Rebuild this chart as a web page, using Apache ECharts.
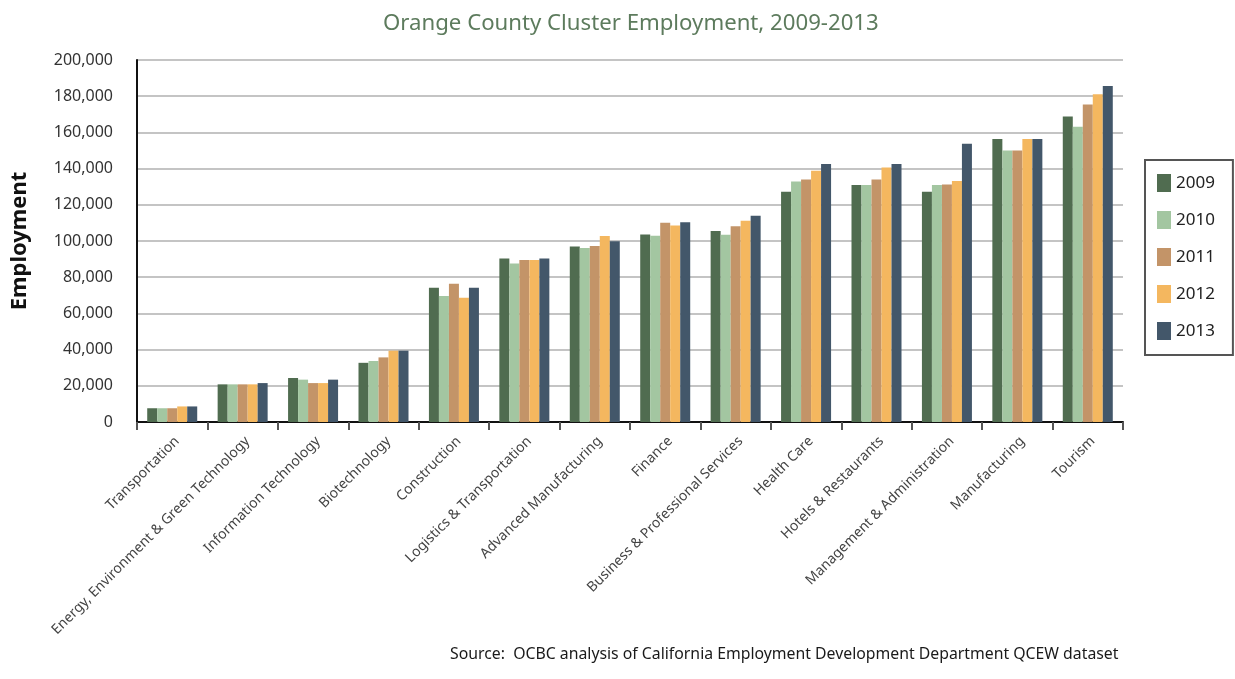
<!DOCTYPE html>
<html>
<head>
<meta charset="utf-8">
<title>Orange County Cluster Employment, 2009-2013</title>
<script src="https://cdn.jsdelivr.net/npm/echarts@6/dist/echarts.min.js"></script>
<style>
  html, body { margin: 0; padding: 0; background: #ffffff; }
  #chart { width: 1235px; height: 679px; }
</style>
</head>
<body>
<div id="chart"></div>
<script>
// Employment clusters, ordered by size
const categories = [
  'Transportation',
  'Energy, Environment & Green Technology',
  'Information Technology',
  'Biotechnology',
  'Construction',
  'Logistics & Transportation',
  'Advanced Manufacturing',
  'Finance',
  'Business & Professional Services',
  'Health Care',
  'Hotels & Restaurants',
  'Management & Administration',
  'Manufacturing',
  'Tourism'
];

const years = ['2009', '2010', '2011', '2012', '2013'];

// Jobs per cluster, one array per year
const jobs2009 = [7600, 20800, 24300, 32700, 74200, 90400, 97000, 103600, 105500, 127200, 131000, 127200, 156400, 168800];
const jobs2010 = [7600, 20800, 23400, 33700, 69600, 87600, 96200, 102900, 103400, 132900, 131000, 131000, 150000, 163100];
const jobs2011 = [7600, 20800, 21500, 35700, 76400, 89500, 97200, 110100, 108200, 134000, 134000, 131200, 150000, 175400];
const jobs2012 = [8600, 20800, 21500, 39400, 68600, 89500, 102700, 108600, 111200, 138800, 140600, 133100, 156400, 181100];
const jobs2013 = [8600, 21500, 23400, 39400, 74200, 90400, 99800, 110300, 113900, 142500, 142500, 153700, 156400, 185700];

const yTicks = [0, 20000, 40000, 60000, 80000, 100000, 120000, 140000, 160000, 180000, 200000];

const seriesData = [jobs2009, jobs2010, jobs2011, jobs2012, jobs2013];
const colors = ['#506c50', '#a3c6a1', '#c39468', '#f4b75f', '#43576a'];

const FONT = '"Noto Sans", "Open Sans", sans-serif';

const chart = echarts.init(document.getElementById('chart'), null, { renderer: 'canvas' });

chart.setOption({
  backgroundColor: '#ffffff',
  animation: false,
  color: colors,
  title: [
    {
      text: 'Orange County Cluster Employment, 2009-2013',
      left: 378,
      top: 8,
      textStyle: { fontFamily: FONT, fontSize: 22.2, fontWeight: 'normal', color: '#5d7b5d' }
    },
    {
      text: 'Source:  OCBC analysis of California Employment Development Department QCEW dataset',
      left: 445,
      top: 641,
      textStyle: { fontFamily: FONT, fontSize: 15.8, fontWeight: 'normal', color: '#1a1a1a' }
    }
  ],
  legend: {
    data: years,
    orient: 'vertical',
    left: 1145,
    top: 160,
    itemWidth: 14,
    itemHeight: 18,
    itemGap: 19,
    padding: [14, 18, 15, 12],
    borderColor: '#555555',
    borderWidth: 2,
    icon: 'rect',
    textStyle: { fontFamily: FONT, fontSize: 17, color: '#222222' }
  },
  grid: {
    left: 137,
    right: 112,
    top: 60,
    bottom: 257,
    containLabel: false
  },
  xAxis: {
    type: 'category',
    data: categories,
    axisLine: { show: true, lineStyle: { color: '#111111', width: 2 } },
    axisTick: { show: true, length: 8, lineStyle: { color: '#555555', width: 2 } },
    axisLabel: {
      interval: 0,
      rotate: 45,
      margin: 12,
      verticalAlign: 'top',
      fontFamily: FONT,
      fontSize: 14,
      color: '#444444'
    }
  },
  yAxis: {
    type: 'value',
    min: yTicks[0],
    max: yTicks[yTicks.length - 1],
    interval: yTicks[1] - yTicks[0],
    name: 'Employment',
    nameLocation: 'middle',
    nameGap: 106,
    nameRotate: 90,
    nameTextStyle: { fontFamily: FONT, fontSize: 22, fontWeight: 'bold', color: '#111111' },
    axisLine: { show: true, lineStyle: { color: '#111111', width: 2 } },
    axisTick: { show: false },
    splitLine: { show: true, lineStyle: { color: '#c4c4c4', width: 2 } },
    axisLabel: {
      margin: 24,
      fontFamily: FONT,
      fontSize: 16,
      color: '#333333',
      formatter: v => v.toLocaleString('en-US')
    }
  },
  series: years.map((y, i) => ({
    name: y,
    type: 'bar',
    data: seriesData[i],
    barGap: '0%',
    barCategoryGap: '29%',
    itemStyle: { color: colors[i] }
  }))
});
</script>
</body>
</html>
